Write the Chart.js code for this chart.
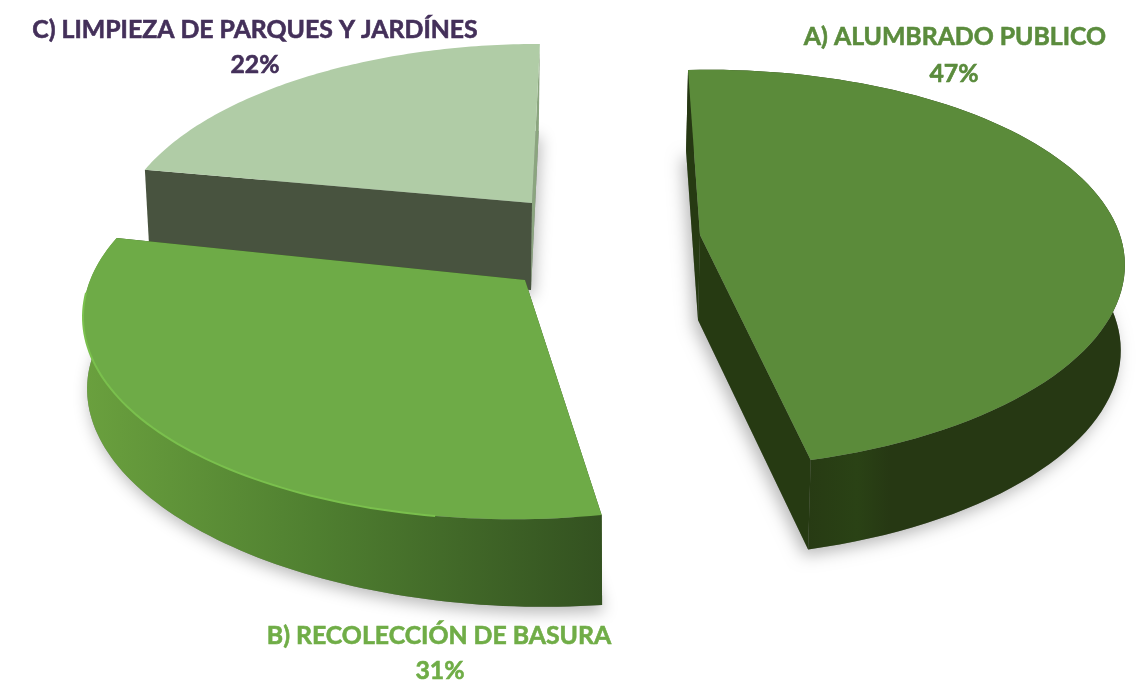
<!DOCTYPE html>
<html>
<head>
<meta charset="utf-8">
<title>Pie 3D</title>
<style>html,body{margin:0;padding:0;background:#fff}canvas{display:block;filter:blur(.5px)}</style>
<script src="https://cdn.jsdelivr.net/npm/chart.js@4"></script>
</head>
<body>
<canvas id="c" width="1143" height="698" style="width:1143px;height:698px"></canvas>
<script>
const categories = ['A) ALUMBRADO PUBLICO', 'B) RECOLECCIÓN DE BASURA', 'C) LIMPIEZA DE PARQUES Y JARDÍNES'];
const shares = [47, 31, 22];
const topColors = ['#5b8b3a', '#6eab47', '#b0cca6'];
const labelColors = ['#5b8c3d', '#70ad47', '#44305a'];

// Per-slice view of the exploded pie (perspective projection of the unit circle)
const views = [
  {x0:700,y0:235,A:420,S:-8,B:193.4,T:0,P:.17, lx:698,ly:320,sx:.995,sy:1.02,dT:0,
   wall:[[0,'#263813'],[.2,'#2a4215'],[.3,'#263813'],[1,'#263813']], wallEnd:'#263a12', wallStart:'#263a12', cx:[790,1125], label:[955,37,954,74]},
  {x0:525,y0:280,A:427,S:-39,B:198,T:16.3,P:.17, lx:526,ly:366,sx:.993,sy:1,dT:14,
   wall:[[0,'#6aa03e'],[.45,'#4f7f30'],[1,'#335120']], wallEnd:'#335120', wallStart:'#335120', cx:[85,602], label:[439,636,440,671]},
  {x0:532,y0:203,A:403.9,S:-30.4,B:185.8,T:8.9,P:.17, lx:531,ly:290,sx:.985,sy:1,dT:0,
   wall:null, wallEnd:'#8ba57f', wallStart:'#48533f', cx:[140,540], label:[255,30,255,65]}
];
const labelFont = 'bold 24.8px Lato';

function project(v, a, lower) {
  const cu = Math.cos(a), cv = Math.sin(a);
  const w = 1 - v.P * cv;
  const x = (v.A * cu + v.S * cv) / w;
  const T = v.T + (lower ? v.dT : 0);
  const y = (v.B * cv + T * cu) / w;
  return lower ? [v.lx + x * v.sx, v.ly + y * v.sy] : [v.x0 + x, v.y0 + y];
}
function rim(v, s, e, lower) {
  const pts = [];
  for (let i = 0; i <= 90; i++) pts.push(project(v, s + (e - s) * i / 90, lower));
  return pts;
}
function poly(ctx, pts, fill) {
  ctx.beginPath();
  pts.forEach((p, i) => i ? ctx.lineTo(p[0], p[1]) : ctx.moveTo(p[0], p[1]));
  ctx.closePath();
  ctx.fillStyle = fill;
  ctx.fill();
}

const pie3d = {
  id: 'pie3d',
  beforeDatasetDraw(chart, args) {
    const ctx = chart.ctx;
    const arcs = chart.getDatasetMeta(args.index).data;
    [2, 1, 0].forEach(i => {
      const arc = arcs[i], v = views[i];
      const s = arc.startAngle, e = arc.endAngle;
      const up = rim(v, s, e, false), low = rim(v, s, e, true);
      const apexU = [v.x0, v.y0], apexL = [v.lx, v.ly];
      const sil = low.concat([apexL]);
      // soft shadow
      ctx.save();
      ctx.shadowColor = 'rgba(0,0,0,.28)';
      ctx.shadowBlur = 16;
      ctx.shadowOffsetX = i === 0 ? -4 : 2;
      ctx.shadowOffsetY = 6;
      poly(ctx, sil, '#888');
      ctx.restore();
      // radial walls
      poly(ctx, [apexU, up[0], low[0], apexL], v.wallStart);
      poly(ctx, [apexU, up[90], low[90], apexL], v.wallEnd);
      // curved wall
      if (v.wall) {
        const g = ctx.createLinearGradient(v.cx[0], 0, v.cx[1], 0);
        v.wall.forEach(st => g.addColorStop(st[0], st[1]));
        poly(ctx, up.concat(low.slice().reverse()), g);
      }
      // top face, coloured by the arc's own option
      poly(ctx, up.concat([apexU]), arc.options.backgroundColor);
      if (i === 1) {
        ctx.beginPath();
        up.slice(15, 78).forEach((p, k) => k ? ctx.lineTo(p[0], p[1]) : ctx.moveTo(p[0], p[1]));
        ctx.strokeStyle = '#7ac04d';
        ctx.lineWidth = 2;
        ctx.stroke();
      }
    });
    return false;
  },
  afterDatasetsDraw(chart) {
    const ctx = chart.ctx;
    ctx.save();
    ctx.font = labelFont;
    ctx.textAlign = 'center';
    ctx.textBaseline = 'middle';
    ctx.lineWidth = .6;
    categories.forEach((name, i) => {
      const L = views[i].label;
      ctx.fillStyle = labelColors[i];
      ctx.strokeStyle = labelColors[i];
      ctx.fillText(name, L[0], L[1]);
      ctx.strokeText(name, L[0], L[1]);
      ctx.fillText(shares[i] + '%', L[2], L[3]);
      ctx.strokeText(shares[i] + '%', L[2], L[3]);
    });
    ctx.restore();
  }
};

new Chart(document.getElementById('c'), {
  type: 'pie',
  data: { labels: categories, datasets: [{ data: shares, backgroundColor: topColors, borderWidth: 0 }] },
  options: {
    responsive: false,
    animation: false,
    rotation: -3,
    layout: { padding: 0 },
    plugins: { legend: { display: false }, tooltip: { enabled: false } }
  },
  plugins: [pie3d]
});
</script>
</body>
</html>
